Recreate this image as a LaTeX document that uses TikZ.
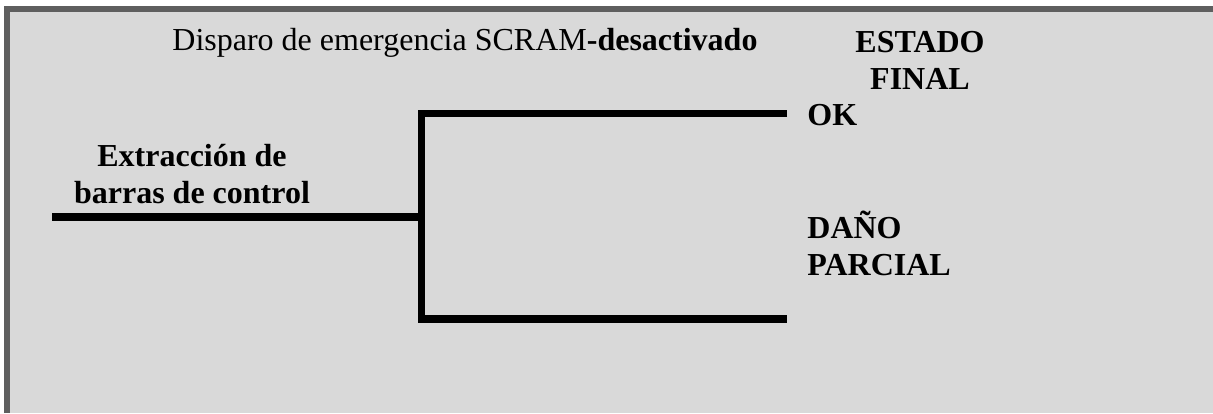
\documentclass[tikz,border=0pt]{standalone}
\usepackage{fontspec}
\setmainfont{Liberation Serif}
\usetikzlibrary{positioning}
\definecolor{marco}{RGB}{95,95,95}
\definecolor{fondo}{RGB}{217,217,217}
\tikzset{
  every picture/.style={x=0.5pt, y=-0.5pt, line join=miter},
  every node/.style={font=\fontsize{16}{18.5}\selectfont, inner sep=0pt},
  % ramas del árbol
  rama/.style={line width=3.75pt},
  % etiquetas en negrita
  etiq/.style={font=\fontsize{16}{18.5}\selectfont\bfseries, align=left},
}
\begin{document}
\begin{tikzpicture}
  \useasboundingbox (0,0) rectangle (1213,413);
  % marco y fondo
  \fill[white] (0,0) rectangle (1213,413);
  \fill[marco] (4,6) rectangle (1213,413);
  \fill[fondo] (10,12) rectangle (1213,413);
  % textos (base = última línea)
  \node[anchor=base west] (titulo) at (172,50) {Disparo de emergencia SCRAM\textbf{-desactivado}};
  \node[etiq, align=center, anchor=base] (estado) at (920,89) {ESTADO\\FINAL};
  \node[etiq, anchor=base west] (ok) at (807,125) {OK};
  \node[etiq, anchor=base west] (dano) at (807,275) {DAÑO\\PARCIAL};
  \node[etiq, align=center, anchor=base] (suceso) at (192,203) {Extracción de\\barras de control};
  % árbol de sucesos
  \coordinate (inicio) at (52,217);
  \coordinate (nudo) at (421.5,217);
  \coordinate (finok) at (787,113.5);
  \coordinate (findano) at (787,319);
  \draw[rama] (inicio) -- (nudo);
  \draw[rama] (finok) -| (nudo) |- (findano);
\end{tikzpicture}
\end{document}
